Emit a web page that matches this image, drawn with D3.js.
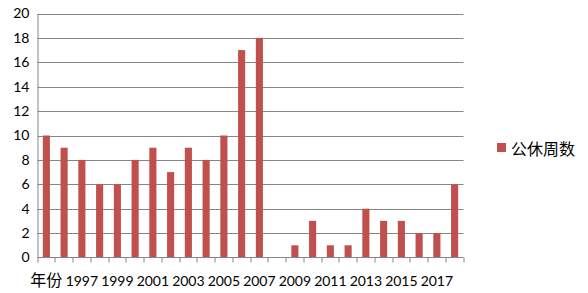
<!DOCTYPE html>
<html><head><meta charset="utf-8">
<script src="https://cdn.jsdelivr.net/npm/d3@7"></script>
<style>body{margin:0;background:#fff}svg{display:block}</style>
</head><body>
<svg id="c" width="588" height="293"></svg>
<script>
const categories = ["年份","1996","1997","1998","1999","2000","2001","2002","2003","2004","2005","2006","2007","2008","2009","2010","2011","2012","2013","2014","2015","2016","2017","2018"];
const values = [10,9,8,6,6,8,9,7,9,8,10,17,18,0,1,3,1,1,4,3,3,2,2,6];
const yTicks = [0,2,4,6,8,10,12,14,16,18,20];
const seriesName = "公休周数";

const svg = d3.select("#c");
const L = 37.5, R = 463.5, T = 13.5, B = 257.5;
const x = d3.scaleBand().domain(categories).range([L, R]).paddingInner(0.6).paddingOuter(0.3);
const y = d3.scaleLinear().domain([0, 20]).range([B, T]);
const font = "Lato, 'Noto Sans CJK SC', sans-serif";

// gridlines
svg.append("g").selectAll("line").data(yTicks.filter(d => d > 0)).join("line")
  .attr("x1", L).attr("x2", R).attr("y1", d => Math.round(y(d)) + 0.5).attr("y2", d => Math.round(y(d)) + 0.5)
  .attr("stroke", "#868686").attr("stroke-width", 1);

// bars
svg.append("g").selectAll("rect").data(values).join("rect")
  .attr("x", (d, i) => x(categories[i])).attr("width", x.bandwidth())
  .attr("y", d => y(d)).attr("height", d => B - y(d))
  .attr("fill", "#C0504D");

// y axis
const ya = svg.append("g").attr("transform", `translate(${L},0)`)
  .call(d3.axisLeft(y).tickValues(yTicks).tickSize(0).tickPadding(8));
ya.select(".domain").attr("stroke", "#868686");
ya.selectAll("text").attr("font-family", font).attr("font-size", 14).attr("fill", "#000");

// x axis
const step = x.step();
const xa = svg.append("g").attr("transform", `translate(0,${B})`);
xa.append("line").attr("x1", L).attr("x2", R).attr("y1", 0).attr("y2", 0).attr("stroke", "#868686");
xa.selectAll("line.tk").data(d3.range(categories.length + 1)).join("line").attr("class", "tk")
  .attr("x1", i => Math.round(L + i * step)).attr("x2", i => Math.round(L + i * step))
  .attr("y1", 0).attr("y2", 5).attr("stroke", "#868686");
xa.selectAll("text").data(categories.filter((c, i) => i % 2 === 0)).join("text")
  .attr("x", d => x(d) + x.bandwidth() / 2).attr("y", 28)
  .attr("text-anchor", "middle").attr("font-family", font)
  .attr("font-size", d => /^\d+$/.test(d) ? 14 : 16).attr("fill", "#000")
  .text(d => d);

// legend
const lg = svg.append("g");
lg.append("rect").attr("x", 497).attr("y", 143).attr("width", 9).attr("height", 9).attr("fill", "#C0504D");
lg.append("text").attr("x", 511).attr("y", 148).attr("dominant-baseline", "central")
  .attr("font-family", font).attr("font-size", 16).attr("fill", "#000").text(seriesName);
</script>
</body></html>
